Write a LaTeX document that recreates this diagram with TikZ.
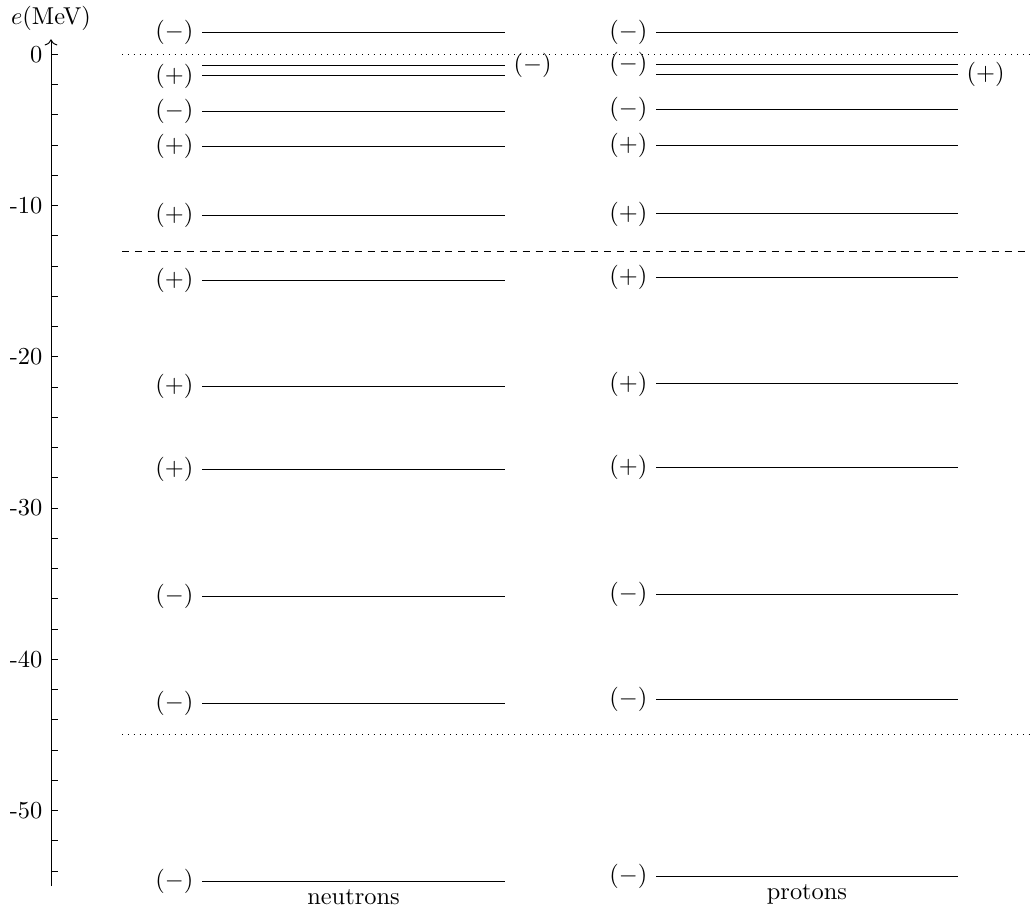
\documentclass[tikz,border=0pt]{standalone}
\usepackage{amsmath}
\usepackage{tikz}
\usetikzlibrary{arrows.meta}

\begin{document}
\begin{tikzpicture}[x=0.41pt,y=6.2pt,
  level/.style={line width=0.4pt},
  refdash/.style={dash pattern=on 3pt off 2.3pt}]
\useasboundingbox (0,-56.84) rectangle (1032,3.60);
% energy axis
\draw[->] (51,-55) -- (51,1) node[above] (elabel) {$e$(MeV)};
\foreach \e in {0,-2,...,-54}{ \draw (51,\e) -- ++(7,0); }
\foreach \e [count=\k] in {0,-10,...,-50}{ \node[left] (tick\k) at (51,\e) {\e}; }
% reference energies, one segment per column
\foreach \a/\b in {122/578,578/1030}{
  \draw[dotted] (\a,0) -- (\b,0);
  \draw[refdash] (\a,-13) -- (\b,-13);
  \draw[dotted] (\a,-45) -- (\b,-45);
}
% neutron levels
\foreach \e/\p [count=\i] in {1.44/-,-1.42/+,-3.74/-,-6.07/+,-10.65/+,-14.96/+,
                              -21.96/+,-27.45/+,-35.86/-,-42.92/-,-54.66/-}{
  \draw[level] (202,\e) node[left] (n\i) {$(\p)$} -- (505,\e);
}
\draw[level] (202,-0.74) -- (505,-0.74) node[right] (nx) {$(-)$};
% proton levels
\foreach \e/\p [count=\i] in {1.46/-,-0.65/-,-3.62/-,-5.99/+,-10.55/+,-14.75/+,
                              -21.79/+,-27.30/+,-35.68/-,-42.66/-,-54.33/-}{
  \draw[level] (656,\e) node[left] (p\i) {$(\p)$} -- (958,\e);
}
\draw[level] (656,-1.31) -- (958,-1.31) node[right] (px) {$(+)$};
% column captions
\node[below] (ncap) at (353.5,-54.66) {neutrons};
\node[below] (pcap) at (807,-54.33) {protons};
\end{tikzpicture}
\end{document}
